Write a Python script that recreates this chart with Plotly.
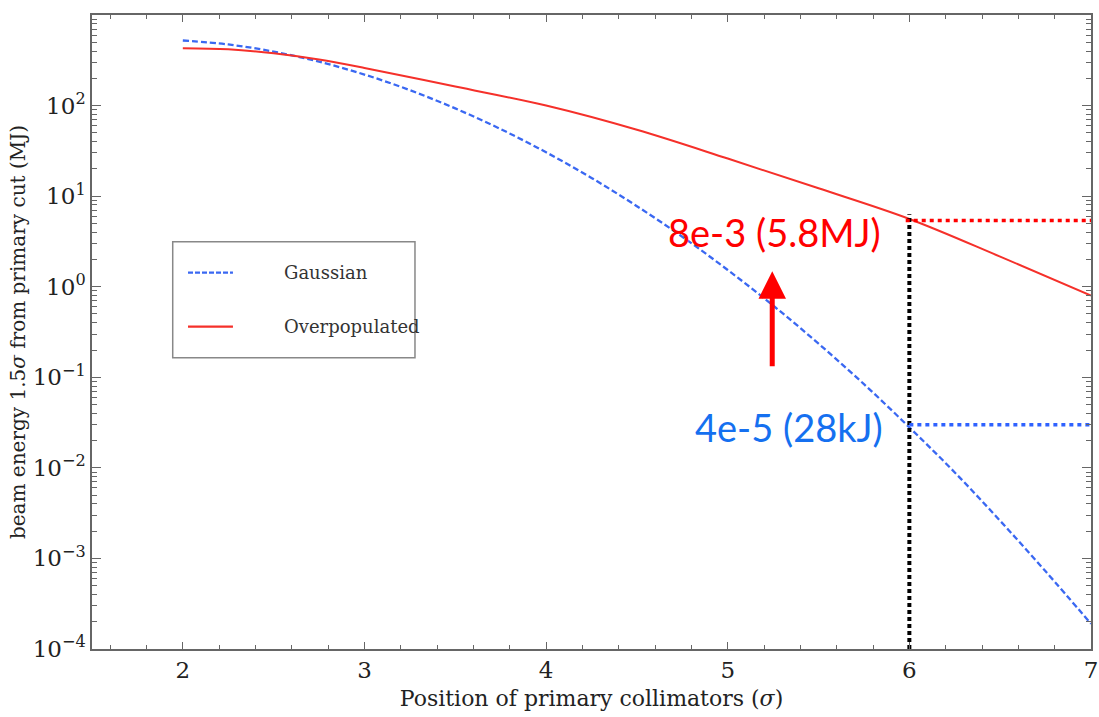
import plotly.graph_objects as go

# ---------------- data ----------------
gauss_x = [2.0, 2.25, 2.5, 2.75, 3.0, 3.25, 3.5, 3.75, 4.0, 4.25, 4.5, 4.75,
           5.0, 5.25, 5.5, 5.75, 6.0, 6.25, 6.5, 6.75, 7.0]
gauss_y = [523, 473, 394, 305, 220, 148, 93, 55, 30.5, 15.9, 7.75, 3.56,
           1.53, 0.62, 0.235, 0.084, 0.028, 0.0089, 0.0026, 0.00072, 0.00019]

over_x = [2.0, 2.25, 2.5, 2.75, 3.0, 3.5, 4.0, 4.5, 5.0, 5.5, 6.0, 6.5, 7.0]
over_y = [430, 418, 378, 322, 260, 162, 100, 54, 26, 12.2, 5.6, 2.15, 0.8]

series_names = ["Gaussian", "Overpopulated"]

cut_x = 6.0            # primary collimator position marked
cut_top = 6.3          # top of vertical dotted marker
red_level = 5.4        # overpopulated value at cut (MJ)
blue_level = 0.030     # gaussian value at cut (MJ)
x_end = 7.0
y_floor = 1e-4

label_red = "8e-3 (5.8MJ)"
label_blue = "4e-5 (28kJ)"

x_ticks = [2, 3, 4, 5, 6, 7]
y_exps = [-4, -3, -2, -1, 0, 1, 2, 3]
y_ticks = [10.0 ** e for e in y_exps]
y_ticktext = ["10<sup>%s</sup>" % (str(e).replace("-", "\u2212")) for e in y_exps]

BLUE = "#3a68f2"
RED = "#f5302a"
SERIF = "DejaVu Serif, serif"
SANS = "Lato, Open Sans, sans-serif"

fig = go.Figure()

fig.add_trace(go.Scatter(x=gauss_x, y=gauss_y, mode="lines", name=series_names[0],
                         line=dict(color=BLUE, width=2.3, dash="6px,3px", shape="spline"),
                         showlegend=False))
fig.add_trace(go.Scatter(x=over_x, y=over_y, mode="lines", name=series_names[1],
                         line=dict(color=RED, width=2, shape="spline"),
                         showlegend=False))

# reference dotted lines
fig.add_trace(go.Scatter(x=[cut_x, cut_x], y=[y_floor, cut_top], mode="lines",
                         line=dict(color="black", width=4, dash="4px,3px"),
                         showlegend=False, hoverinfo="skip"))
fig.add_trace(go.Scatter(x=[cut_x - 0.02, x_end], y=[red_level, red_level], mode="lines",
                         line=dict(color="#ff0000", width=3.5, dash="4px,4px"),
                         showlegend=False, hoverinfo="skip"))
fig.add_trace(go.Scatter(x=[cut_x, x_end], y=[blue_level, blue_level], mode="lines",
                         line=dict(color="#2f62ff", width=3.5, dash="4px,4px"),
                         showlegend=False, hoverinfo="skip"))

# text labels
fig.add_annotation(x=5.855, y=0.605, xref="x", yref="y", text=label_red, showarrow=False,
                   xanchor="right", yanchor="middle",
                   font=dict(family=SANS, size=38, color="#ff0000"))
fig.add_annotation(x=5.865, y=-1.547, xref="x", yref="y", text=label_blue, showarrow=False,
                   xanchor="right", yanchor="middle",
                   font=dict(family=SANS, size=38, color="#1570f0"))
# red arrow
fig.add_annotation(x=5.245, y=0.17, xref="x", yref="y", ax=5.245, ay=-0.896,
                   axref="x", ayref="y", text="", showarrow=True,
                   arrowhead=2, arrowsize=1.1, arrowwidth=5, arrowcolor="#ff0000")

# manual legend
fig.add_shape(type="rect", xref="paper", yref="paper", x0=0.0808, x1=0.3233,
              y0=0.4595, y1=0.6424, line=dict(color="#888888", width=1.5),
              fillcolor="white", layer="below")
leg_y = [0.5935, 0.5084]
leg_dash = ["5px,2px", "solid"]
leg_col = [BLUE, RED]
for i, nm in enumerate(series_names):
    fig.add_shape(type="line", xref="paper", yref="paper", x0=0.0961, x1=0.1411,
                  y0=leg_y[i], y1=leg_y[i], line=dict(color=leg_col[i], width=2.2, dash=leg_dash[i]))
    fig.add_annotation(x=0.1902, y=leg_y[i], xref="paper", yref="paper", text=nm,
                       showarrow=False, xanchor="left", yanchor="middle",
                       font=dict(family=SERIF, size=18, color="#333333"))

axis_common = dict(showline=True, linecolor="#666666", linewidth=1.5, mirror="allticks",
                   ticks="inside", tickcolor="#666666", showgrid=False, zeroline=False,
                   automargin=False,
                   tickfont=dict(family=SERIF, size=23, color="#222222"))

fig.update_xaxes(range=[1.5, 7.0], tickvals=x_ticks, ticklen=7, tickwidth=1.3,
                 minor=dict(ticks="inside", ticklen=4, dtick=0.2, tick0=0, tickcolor="#666666",
                            showgrid=False),
                 title=dict(text="Position of primary collimators (<i>\u03c3</i>)",
                            font=dict(family=SERIF, size=22, color="#222222"), standoff=8),
                 **axis_common)
fig.update_yaxes(type="log", range=[-4, 3], tickvals=y_ticks, ticktext=y_ticktext,
                 ticklen=9, tickwidth=1.3,
                 minor=dict(ticks="inside", ticklen=5, dtick="D1", tickcolor="#666666",
                            showgrid=False),
                 title=dict(text="beam energy 1.5<i>\u03c3</i> from primary cut (MJ)",
                            font=dict(family=SERIF, size=20, color="#222222"), standoff=2),
                 **axis_common)

fig.update_layout(width=1099, height=717,
                  margin=dict(l=92, r=8, t=15, b=68),
                  plot_bgcolor="white", paper_bgcolor="white",
                  showlegend=False)

fig.write_html("out.html")
